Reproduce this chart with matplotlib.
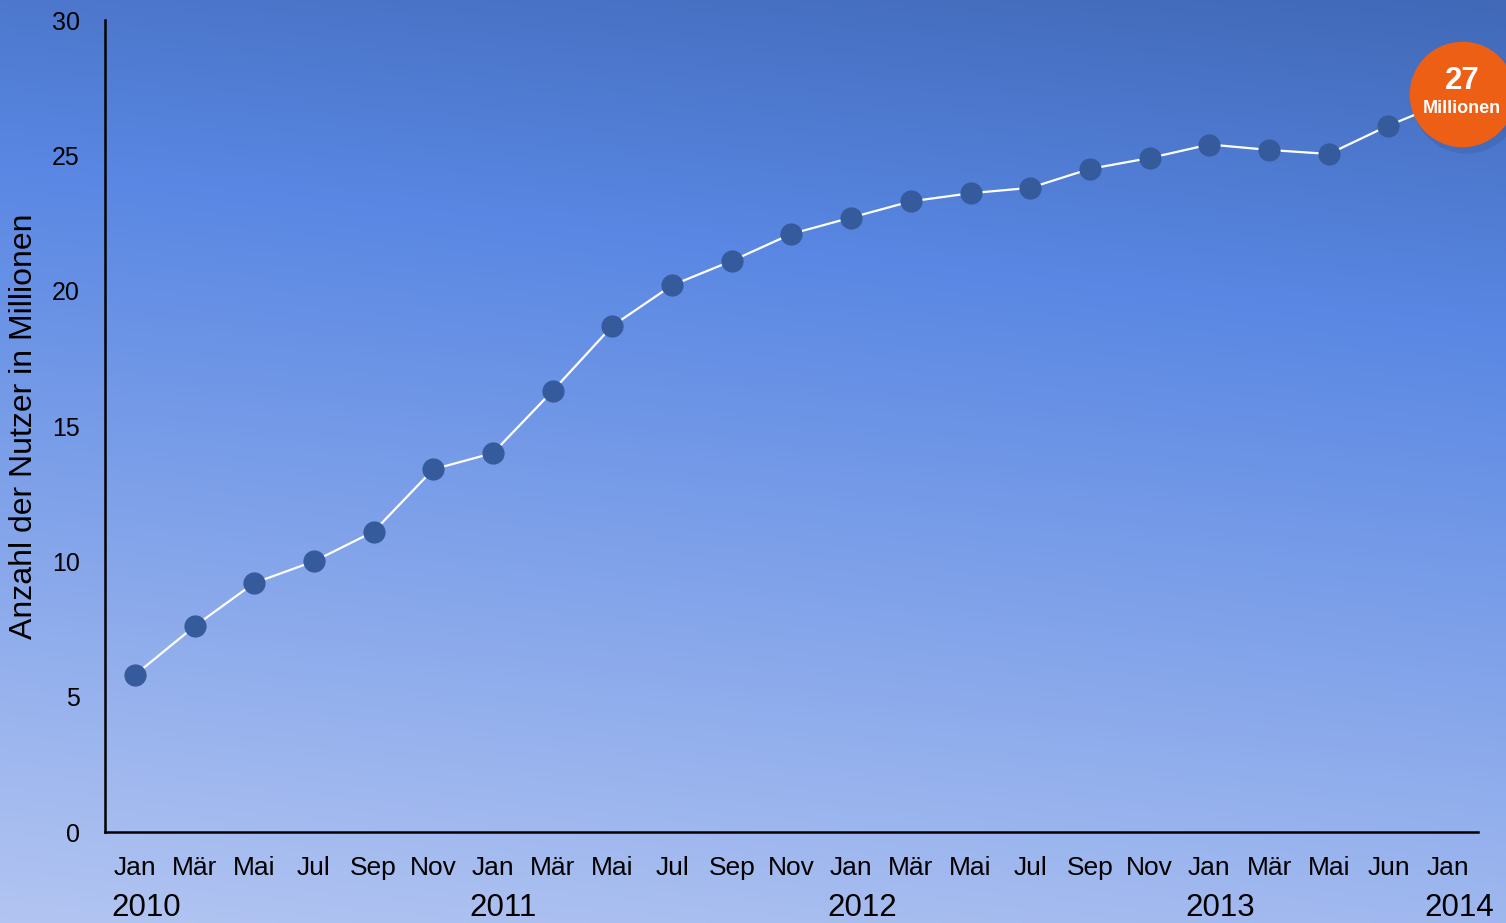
import numpy as np
import matplotlib
matplotlib.use("Agg")
import matplotlib.pyplot as plt
from matplotlib.colors import LinearSegmentedColormap
import matplotlib.transforms as mtransforms

plt.rcParams['font.family'] = ['Liberation Sans', 'DejaVu Sans']

# data
months = ["Jan", "Mär", "Mai", "Jul", "Sep", "Nov",
          "Jan", "Mär", "Mai", "Jul", "Sep", "Nov",
          "Jan", "Mär", "Mai", "Jul", "Sep", "Nov",
          "Jan", "Mär", "Mai", "Jun", "Jan"]
users = [5.8, 7.6, 9.2, 10.0, 11.1, 13.4,
         14.0, 16.3, 18.7, 20.2, 21.1, 22.1,
         22.7, 23.3, 23.6, 23.8, 24.5, 24.9,
         25.4, 25.2, 25.05, 26.1, 27.0]
years = ["2010", "2011", "2012", "2013", "2014"]
year_idx = [0, 6, 12, 18, 22]
yticks = [0, 5, 10, 15, 20, 25, 30]

fig = plt.figure(figsize=(15.06, 9.23), dpi=100)

# background gradient
bg = fig.add_axes([0, 0, 1, 1], zorder=-10)
h, w = 300, 490
yy, xx = np.mgrid[0:1:h*1j, 0:1:w*1j]
t = yy * 0.85 + (1 - xx) * 0.15
cmap = LinearSegmentedColormap.from_list(
    "bg", [(0, "#4169b8"), (0.3, "#5987e3"), (1, "#b2c5f2")])
bg.imshow(t, cmap=cmap, aspect="auto", extent=[0, 1, 1, 0], vmin=0, vmax=1)
bg.axis("off")

ax = fig.add_axes([105/1506, 91/923, 1373/1506, 812/923])
ax.patch.set_alpha(0)
x = np.arange(len(users))
ax.plot(x, users, color="white", lw=1.6, zorder=2)
ax.plot(x[:-1], users[:-1], "o", color="#365b9c", ms=16, mec="none", zorder=3)

ax.set_xlim(-0.5, 22.5)
ax.set_ylim(0, 30)
ax.set_yticks(yticks)
ax.set_xticks(x)
ax.set_xticklabels(months)
ax.tick_params(axis="x", length=0, pad=17, labelsize=19)
ax.tick_params(axis="y", length=0, pad=18, labelsize=18)
for s in ["top", "right"]:
    ax.spines[s].set_visible(False)
ax.spines["left"].set_linewidth(1.8)
ax.spines["bottom"].set_linewidth(1.8)
ax.set_ylabel("Anzahl der Nutzer in Millionen", fontsize=23, labelpad=9)

for yr, i in zip(years, year_idx):
    ax.annotate(yr, xy=(i, 0), xytext=(-17, -54.5), textcoords="offset points",
                ha="left", va="center", fontsize=22.5, annotation_clip=False)

# orange badge on the last point
off = mtransforms.offset_copy(ax.transData, fig=fig, x=14, y=7, units="dots")
ax.plot(x[-1], users[-1], "o", color="#2b4a8a", alpha=0.22, ms=78, mec="none",
        clip_on=False, zorder=4,
        transform=mtransforms.offset_copy(ax.transData, fig=fig, x=18, y=2, units="dots"))
ax.plot(x[-1], users[-1], "o", color="#ee5f16", ms=76, mec="none",
        clip_on=False, zorder=5, transform=off)
ax.text(x[-1], users[-1] + 0.5, "27", color="white", fontsize=22.5, fontweight="bold",
        ha="center", va="center", zorder=6, transform=off)
ax.text(x[-1], users[-1] - 0.52, "Millionen", color="white", fontsize=13,
        fontweight="bold", ha="center", va="center", zorder=6, transform=off)

fig.savefig("out.png", dpi=100)
